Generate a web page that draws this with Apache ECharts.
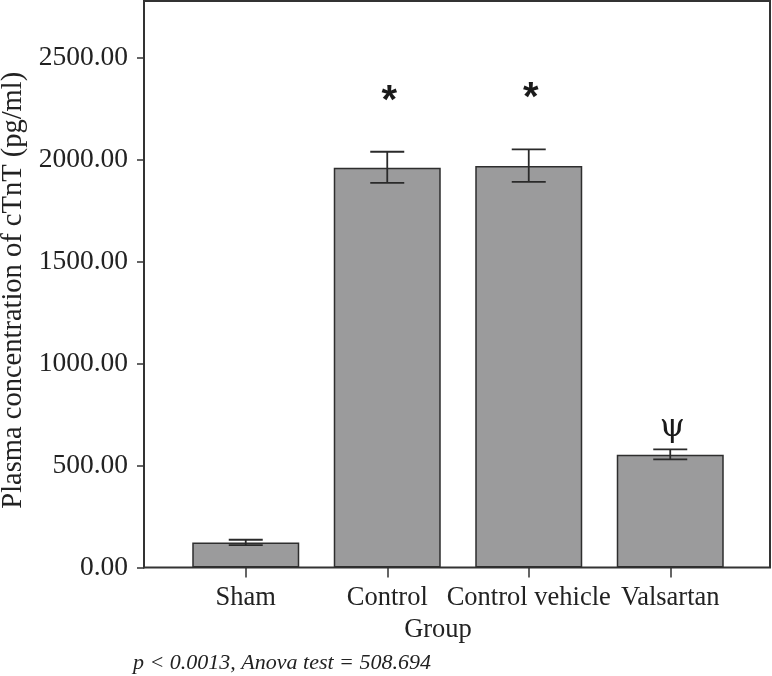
<!DOCTYPE html>
<html>
<head>
<meta charset="utf-8">
<script src="https://cdn.jsdelivr.net/npm/echarts@6/dist/echarts.min.js"></script>
<style>
  * { margin: 0; padding: 0; }
  body { background: #fff; }
</style>
</head>
<body>
<!-- chart container -->
<div id="main" style="width: 772px;height: 676px;"></div>
<script>
  // data
  var groups = ['Sham', 'Control', 'Control vehicle', 'Valsartan'];
  var means = [122, 1960, 1968, 553];
  var errUp = [136, 2038, 2050, 579];
  var errLow = [110, 1885, 1890, 530];
  var marks = ['', '*', '*', 'ψ'];
  var yTicks = [0, 500, 1000, 1500, 2000, 2500];

  var serif = "'Liberation Serif', 'Times New Roman', serif";
  var yMax = 2777;

  var mycharts = echarts.init(document.getElementById('main'));

  var option = {
    animation: false,
    title: {
      text: 'p < 0.0013, Anova test = 508.694',
      left: 128,
      top: 647,
      textStyle: {
        fontFamily: serif,
        fontStyle: 'italic',
        fontWeight: 'normal',
        fontSize: 22,
        color: '#222'
      }
    },
    grid: [
      // frame + y axis
      { left: 144, top: 1, right: 2, bottom: 108.5, show: true, borderColor: '#333', borderWidth: 2, containLabel: false, outerBoundsMode: 'none' },
      // bars, inset inside the frame
      { left: 175, top: 1, right: 31, bottom: 108.5, containLabel: false, outerBoundsMode: 'none' }
    ],
    xAxis: [
      { gridIndex: 0, type: 'value', show: false, min: 0, max: 1 },
      {
        gridIndex: 1,
        type: 'category',
        data: groups,
        axisLine: { show: false },
        axisTick: { show: true, alignWithLabel: true, length: 10, lineStyle: { color: '#333', width: 1.5 } },
        axisLabel: { fontFamily: serif, fontSize: 26.5, color: '#222', margin: 17, interval: 0 },
        name: 'Group',
        nameLocation: 'middle',
        nameGap: 47,
        nameTextStyle: { fontFamily: serif, fontSize: 26.5, color: '#222', padding: [0, 40, 0, 0] }
      }
    ],
    yAxis: [
      {
        gridIndex: 0,
        type: 'value',
        min: 0,
        max: yMax,
        interval: 500,
        axisLine: { show: true, lineStyle: { color: '#333', width: 2 } },
        axisTick: { show: true, length: 7, customValues: yTicks, lineStyle: { color: '#333', width: 1.5 } },
        splitLine: { show: false },
        axisLabel: {
          customValues: yTicks,
          fontFamily: serif,
          fontSize: 27.5,
          color: '#222',
          margin: 16,
          formatter: function (v) { return v.toFixed(2); }
        },
        name: 'Plasma concentration of cTnT (pg/ml)',
        nameLocation: 'middle',
        nameGap: 115,
        nameTextStyle: { fontFamily: serif, fontSize: 28.5, color: '#222', padding: [0, 12, 0, 0] }
      },
      { gridIndex: 1, type: 'value', show: false, min: 0, max: yMax }
    ],
    series: [
      {
        type: 'bar',
        xAxisIndex: 1,
        yAxisIndex: 1,
        data: means,
        barWidth: 107,
        itemStyle: { color: '#9b9b9c', borderColor: '#2e2e2e', borderWidth: 1.5 }
      },
      {
        // error bars
        type: 'custom',
        xAxisIndex: 1,
        yAxisIndex: 1,
        data: groups.map(function (g, i) { return [i, errLow[i], errUp[i]]; }),
        renderItem: function (params, api) {
          var lo = api.coord([api.value(0), api.value(1)]);
          var hi = api.coord([api.value(0), api.value(2)]);
          var w = 17;
          var st = { stroke: '#2a2a2a', lineWidth: 1.8 };
          return {
            type: 'group',
            children: [
              { type: 'line', shape: { x1: hi[0], y1: hi[1], x2: lo[0], y2: lo[1] }, style: st },
              { type: 'line', shape: { x1: hi[0] - w, y1: hi[1], x2: hi[0] + w, y2: hi[1] }, style: st },
              { type: 'line', shape: { x1: lo[0] - w, y1: lo[1], x2: lo[0] + w, y2: lo[1] }, style: st }
            ]
          };
        },
        z: 5
      },
      {
        // significance marks above the error bars
        type: 'custom',
        xAxisIndex: 1,
        yAxisIndex: 1,
        data: groups.map(function (g, i) { return [i, errUp[i]]; }),
        renderItem: function (params, api) {
          var p = api.coord([api.value(0), api.value(1)]);
          var m = marks[params.dataIndex];
          if (!m) return null;
          var star = m === '*';
          return {
            type: 'text',
            style: {
              text: m,
              x: p[0] + 2,
              y: star ? p[1] - 50 : p[1] - 22,
              align: 'center',
              verticalAlign: 'middle',
              fontFamily: star ? "'Liberation Sans', Arial, sans-serif" : "'DejaVu Serif', serif",
              fontWeight: star ? 'bold' : 'normal',
              fontSize: star ? 40 : 32,
              fill: '#1a1a1a'
            }
          };
        },
        z: 6
      }
    ]
  };
  mycharts.clear();
  mycharts.setOption(option);
</script>
</body>
</html>
